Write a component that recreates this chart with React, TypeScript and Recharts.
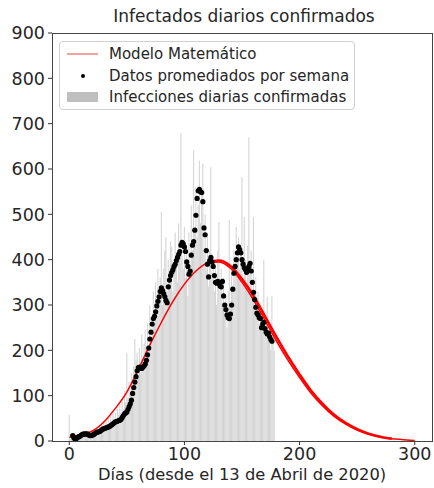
import React from 'react';
import { ComposedChart, Bar, Line, XAxis, YAxis } from 'recharts';

// daily confirmed cases, day 0..178
const dailyCases = [
  58, 5, 8, 12, 3, 6, 10, 4, 14, 9,
  18, 12, 20, 15, 22, 10, 18, 14, 20, 12,
  22, 16, 28, 18, 30, 22, 34, 20, 38, 26,
  42, 30, 48, 36, 52, 38, 55, 42, 60, 45,
  62, 48, 70, 58, 80, 62, 90, 70, 110, 85,
  195, 95, 130, 105, 150, 120, 165, 225, 180, 195,
  140, 205, 150, 235, 170, 215, 245, 180, 260, 210,
  300, 230, 250, 330, 260, 350, 290, 380, 320, 360,
  505, 300, 380, 420, 450, 330, 400, 360, 440, 428,
  330, 373, 460, 400, 350, 480, 420, 680, 410, 380,
  472, 360, 430, 320, 460, 380, 520, 420, 640, 470,
  560, 450, 520, 618, 480, 540, 612, 420, 500, 380,
  450, 340, 420, 604, 360, 400, 330, 380, 300, 420,
  483, 340, 380, 300, 360, 280, 320, 250, 330, 487,
  300, 380, 330, 420, 380, 472, 400, 450, 380, 420,
  582, 360, 494, 400, 350, 430, 670, 380, 420, 330,
  494, 300, 360, 280, 330, 260, 300, 250, 290, 400,
  240, 270, 318, 220, 260, 200, 320, 230, 200,
];

// weekly averaged data, day 3..176
const avgStart = 3;
const weeklyAvg = [
  12, 7, 4, 5, 8, 9, 10,
  12, 14, 15, 16, 15, 16, 15, 13, 12, 12,
  13, 14, 16, 18, 19, 20, 21, 22, 24, 26,
  27, 28, 29, 30, 31, 32, 34, 36, 38, 40,
  42, 43, 44, 45, 46, 48, 52, 56, 60, 62,
  64, 70, 76, 82, 90, 105, 118, 130, 142, 155,
  162, 163, 161, 160, 163, 166, 170, 178, 190, 205,
  225, 240, 258, 270, 275, 285, 298, 308, 318, 330,
  338, 332, 325, 318, 310, 305, 340, 355, 365, 372,
  378, 385, 390, 398, 405, 412, 418, 432, 438, 435,
  428, 418, 395, 385, 368, 375, 410, 432, 440, 465,
  498, 535, 552, 555, 550, 548, 528, 470, 455, 420,
  390, 362, 398, 405, 395, 385, 365, 350, 348, 352,
  348, 342, 340, 352, 320, 300, 290, 278, 272, 270,
  280, 300, 335, 370, 385, 400, 415, 428, 422, 415,
  400, 390, 382, 378, 372, 380, 385, 392, 375, 350,
  328, 312, 295, 282, 278, 272, 270, 250, 258, 262,
  248, 240, 236, 238, 230, 224, 220,
];

// mathematical model, every 10 days
const modelDays = [0, 10, 20, 30, 40, 50, 60, 70, 80, 90, 100, 110, 120, 130, 140, 150, 160, 170, 180, 190, 200, 210, 220, 230, 240, 250, 260, 270, 280, 290, 300];
const modelValues = [8, 14, 22, 42, 72, 108, 158, 212, 262, 308, 346, 375, 392, 395, 381, 350, 311, 266, 220, 178, 140, 105, 77, 54, 37, 24, 15, 9, 5, 3, 1];
// upper edge of the model band (spread after the peak)
const modelUpperDays = [120, 130, 140, 150, 160, 170, 180, 190, 200, 210, 220, 230, 240, 250, 260, 270, 280];
const modelUpper = [393, 398, 386, 357, 320, 275, 229, 186, 147, 111, 82, 58, 40, 26, 16.2, 9.6, 5.2];

const xTicks = [0, 100, 200, 300];
const yTicks = [0, 100, 200, 300, 400, 500, 600, 700, 800, 900];

const rows = Array.from({ length: 301 }, (_, day) => {
  const mi = modelDays.indexOf(day);
  const ui = modelUpperDays.indexOf(day);
  const ai = day - avgStart;
  return {
    day,
    cases: day < dailyCases.length ? dailyCases[day] : null,
    avg: ai >= 0 && ai < weeklyAvg.length ? weeklyAvg[ai] : null,
    model: mi >= 0 ? modelValues[mi] : null,
    modelUp: ui >= 0 ? modelUpper[ui] : null,
  };
});

const font = '"DejaVu Sans", sans-serif';
const tickStyle = { fill: '#262626', fontSize: 17.5, fontFamily: font };

const App: React.FC = () => {
  return (
    <div style={{ position: 'absolute', left: 0, top: 0, width: 434, height: 488, background: '#fff', fontFamily: font }}>
      <ComposedChart width={434} height={488} data={rows} margin={{ top: 33, right: 2, left: 0, bottom: 0 }}>
        <XAxis
          dataKey="day"
          type="number"
          domain={[-15, 315]}
          ticks={xTicks}
          axisLine={false}
          tickSize={4}
          tickMargin={3}
          tick={tickStyle}
          tickLine={{ stroke: '#333' }}
          height={47}
          allowDataOverflow
        />
        <YAxis
          domain={[0, 900]}
          ticks={yTicks}
          axisLine={false}
          tickSize={4}
          tickMargin={3}
          tick={tickStyle}
          tickLine={{ stroke: '#333' }}
          width={52}
          allowDataOverflow
        />
        <Bar dataKey="cases" fill="#d3d3d3" barSize={1.2} isAnimationActive={false} />
        <Line
          dataKey="model"
          type="monotone"
          stroke="#ff0000"
          strokeWidth={1.5}
          dot={false}
          connectNulls
          isAnimationActive={false}
        />
        <Line
          dataKey="modelUp"
          type="monotone"
          stroke="#ff0000"
          strokeWidth={2.6}
          dot={false}
          connectNulls
          isAnimationActive={false}
        />
        <Line
          dataKey="avg"
          stroke="none"
          strokeWidth={0}
          dot={{ r: 2.6, fill: '#000', stroke: 'none' }}
          isAnimationActive={false}
        />
      </ComposedChart>

      <div style={{ position: 'absolute', left: 52, top: 33, width: 379, height: 407, border: '1px solid #444', pointerEvents: 'none' }} />

      <div style={{ position: 'absolute', left: 52, width: 384, top: 6, textAlign: 'center', fontSize: 17, color: '#262626' }}>
        Infectados diarios confirmados
      </div>

      <div style={{ position: 'absolute', left: 52, width: 380, top: 465, textAlign: 'center', fontSize: 16.3, color: '#262626' }}>
        Días (desde el 13 de Abril de 2020)
      </div>

      <div style={{ position: 'absolute', left: 59, top: 41, width: 294, height: 67, border: '1px solid #d0d0d0', borderRadius: 4, background: 'rgba(255,255,255,0.85)', fontSize: 15, color: '#262626' }}>
        <div style={{ position: 'absolute', left: 7, top: 2, display: 'flex', alignItems: 'center', height: 20 }}>
          <div style={{ width: 31, height: 1.5, background: '#f4a0a0' }} />
          <span style={{ marginLeft: 11 }}>Modelo Matemático</span>
        </div>
        <div style={{ position: 'absolute', left: 7, top: 24, display: 'flex', alignItems: 'center', height: 20 }}>
          <div style={{ width: 31, display: 'flex', justifyContent: 'center' }}>
            <div style={{ width: 4, height: 4, borderRadius: 2, background: '#000' }} />
          </div>
          <span style={{ marginLeft: 11 }}>Datos promediados por semana</span>
        </div>
        <div style={{ position: 'absolute', left: 7, top: 45, display: 'flex', alignItems: 'center', height: 20 }}>
          <div style={{ width: 31, height: 10, background: '#bfbfbf' }} />
          <span style={{ marginLeft: 11 }}>Infecciones diarias confirmadas</span>
        </div>
      </div>
    </div>
  );
};

export default App;
